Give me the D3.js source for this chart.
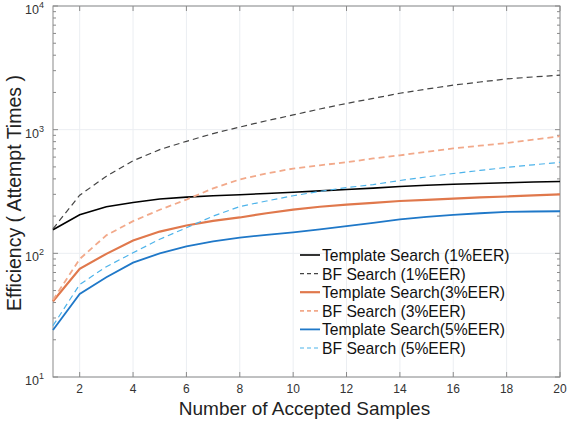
<!doctype html>
<html>
<head>
<script src="https://d3js.org/d3.v7.min.js"></script>
<style>
  body { margin: 0; background: #fff; }
  text { font-family: "Liberation Sans", Arial, sans-serif; }
</style>
</head>
<body>
<script>
// data
var samples = d3.range(1, 21);
var templ1 = [155, 205, 238, 258, 275, 285, 292, 298, 305, 312, 320, 328, 337, 347, 355, 362, 367, 372, 377, 381];
var bf1 = [158, 295, 420, 560, 690, 805, 930, 1050, 1180, 1315, 1470, 1630, 1790, 1970, 2130, 2290, 2430, 2570, 2670, 2760];
var templ3 = [41, 75, 99, 127, 150, 168, 183, 195, 211, 226, 238, 248, 256, 265, 271, 277, 283, 288, 294, 300];
var bf3 = [42, 90, 140, 182, 225, 272, 335, 396, 442, 485, 515, 545, 585, 620, 662, 705, 742, 780, 830, 885];
var templ5 = [24, 47, 64, 84, 100, 114, 125, 134, 141, 148, 156, 166, 176, 188, 197, 205, 211, 216, 218, 219];
var bf5 = [26, 56, 78, 101, 130, 161, 200, 239, 265, 292, 317, 340, 360, 388, 415, 442, 468, 495, 520, 544];
var xTicks = [2, 4, 6, 8, 10, 12, 14, 16, 18, 20];
var yTicks = [10, 100, 1000, 10000];

var series = [
  {name: "Template Search (1%EER)", values: templ1, color: "#000000", dash: null, w: 1.6},
  {name: "BF Search (1%EER)", values: bf1, color: "#444444", dash: "6,4", w: 1.2},
  {name: "Template Search(3%EER)", values: templ3, color: "#E0784C", dash: null, w: 2.2},
  {name: "BF Search (3%EER)", values: bf3, color: "#F2A98A", dash: "6,4", w: 1.8},
  {name: "Template Search(5%EER)", values: templ5, color: "#1F78C8", dash: null, w: 1.8},
  {name: "BF Search (5%EER)", values: bf5, color: "#4DB3EA", dash: "6,4", w: 1.2}
];

var width = 567, height = 423;
var margin = {left: 53, right: 7, top: 6, bottom: 46};

var svg = d3.select("body").append("svg")
  .attr("width", width)
  .attr("height", height);

var x = d3.scaleLinear().domain([1, 20]).range([margin.left, width - margin.right]);
var y = d3.scaleLog().domain([10, 10000]).range([height - margin.bottom, margin.top]);

// grid
var minor = [];
for (var e = 1; e < 4; e++) {
  for (var k = 2; k <= 9; k++) minor.push(k * Math.pow(10, e));
}
svg.append("g").selectAll("line").data(xTicks).enter().append("line")
  .attr("x1", d => x(d)).attr("x2", d => x(d))
  .attr("y1", y(10)).attr("y2", y(10000))
  .attr("stroke", "#ebeef2").attr("stroke-width", 1);
svg.append("g").selectAll("line").data(yTicks).enter().append("line")
  .attr("x1", x(1)).attr("x2", x(20))
  .attr("y1", d => y(d)).attr("y2", d => y(d))
  .attr("stroke", "#ebeef2").attr("stroke-width", 1);

// box
svg.append("rect")
  .attr("x", x(1)).attr("y", y(10000))
  .attr("width", x(20) - x(1)).attr("height", y(10) - y(10000))
  .attr("fill", "none").attr("stroke", "#8a8a8a").attr("stroke-width", 1);

// ticks (inward)
var tk = svg.append("g").attr("stroke", "#8a8a8a");
xTicks.forEach(function(d) {
  tk.append("line").attr("x1", x(d)).attr("x2", x(d)).attr("y1", y(10)).attr("y2", y(10) - 5);
  tk.append("line").attr("x1", x(d)).attr("x2", x(d)).attr("y1", y(10000)).attr("y2", y(10000) + 5);
});
yTicks.forEach(function(d) {
  tk.append("line").attr("x1", x(1)).attr("x2", x(1) + 5).attr("y1", y(d)).attr("y2", y(d));
  tk.append("line").attr("x1", x(20)).attr("x2", x(20) - 5).attr("y1", y(d)).attr("y2", y(d));
});
minor.forEach(function(d) {
  tk.append("line").attr("x1", x(1)).attr("x2", x(1) + 3).attr("y1", y(d)).attr("y2", y(d));
  tk.append("line").attr("x1", x(20)).attr("x2", x(20) - 3).attr("y1", y(d)).attr("y2", y(d));
});

// tick labels
svg.append("g").selectAll("text").data(xTicks).enter().append("text")
  .attr("x", d => x(d)).attr("y", y(10) + 16)
  .attr("text-anchor", "middle").attr("font-size", 12).attr("fill", "#333")
  .text(d => d);

var yl = svg.append("g").selectAll("text").data(yTicks).enter().append("text")
  .attr("x", x(1) - 9).attr("y", d => y(d) + 8)
  .attr("text-anchor", "end").attr("font-size", 12.5).attr("fill", "#333");
yl.append("tspan").text("10");
yl.append("tspan").attr("dy", -6).attr("font-size", 9).text(d => Math.round(Math.log10(d)));

// axis titles
svg.append("text")
  .attr("x", (x(1) + x(20)) / 2 - 2).attr("y", 415)
  .attr("text-anchor", "middle").attr("font-size", 19).attr("fill", "#222")
  .text("Number of Accepted Samples");
svg.append("text")
  .attr("transform", "translate(21,193) rotate(-90)")
  .attr("text-anchor", "middle").attr("font-size", 19.5).attr("fill", "#222")
  .text("Efficiency ( Attempt Times )");

// lines
var line = d3.line()
  .x((d, i) => x(samples[i]))
  .y(d => y(d));

svg.append("g").selectAll("path").data(series).enter().append("path")
  .attr("d", d => line(d.values))
  .attr("fill", "none")
  .attr("stroke", d => d.color)
  .attr("stroke-width", d => d.w)
  .attr("stroke-dasharray", d => d.dash);

// legend
var legend = svg.append("g").attr("transform", "translate(300,255)");
var items = legend.selectAll("g").data(series).enter().append("g")
  .attr("transform", (d, i) => "translate(0," + (i * 18.6) + ")");
items.append("line")
  .attr("x1", 0).attr("x2", 20).attr("y1", 0).attr("y2", 0)
  .attr("stroke", d => d.color)
  .attr("stroke-width", d => d.w)
  .attr("stroke-dasharray", d => d.dash ? "4,3" : null);
items.append("text")
  .attr("x", 22).attr("y", 6)
  .attr("font-size", 15.7).attr("fill", "#111")
  .text(d => d.name);
</script>
</body>
</html>
